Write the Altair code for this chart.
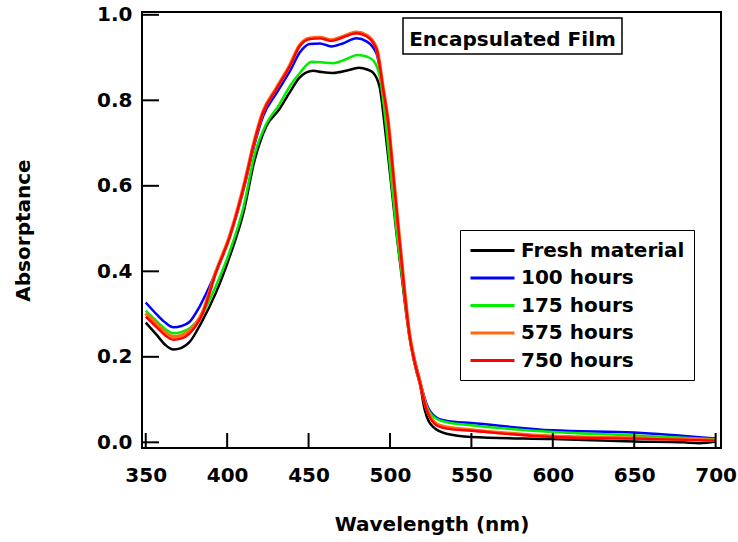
import altair as alt
import pandas as pd

SERIES = ["Fresh material", "100 hours", "175 hours", "575 hours", "750 hours"]
COLORS = ["#000000", "#0000ff", "#00ee00", "#ff6a10", "#ff0000"]
WIDTHS = [2.5, 2.5, 2.5, 3.6, 2.4]

wl_fresh = [350, 357, 362, 367, 372, 377, 384, 393, 401.6, 410, 417, 420, 424, 432, 438.5, 444.6,
            452.8, 458, 465, 473, 481, 486, 489.6, 493.7, 496.8, 500, 504, 507, 510, 513, 516,
            518.3, 521.4, 526.5, 534.7, 550, 600, 650, 680, 690, 700]
a_fresh = [0.280, 0.250, 0.228, 0.217, 0.221, 0.235, 0.279, 0.349, 0.435, 0.537, 0.662, 0.700, 0.739,
           0.779, 0.819, 0.854, 0.869, 0.866, 0.864, 0.869, 0.876, 0.872, 0.865, 0.830, 0.739, 0.630,
           0.489, 0.395, 0.300, 0.225, 0.170, 0.138, 0.075, 0.036, 0.020, 0.0125, 0.0077, 0.002,
           0.000, -0.002, 0.002]

wl_100 = [350, 357, 362, 367, 372, 377, 383, 391, 401.6, 411, 416, 422, 430, 438.5, 444.6, 450.7,
          456.9, 464, 471, 479.4, 485.6, 491.7, 495.8, 498.9, 501.9, 505, 509, 512, 515, 518,
          522.4, 528.5, 535, 550, 600, 650, 700]
a_100 = [0.327, 0.298, 0.280, 0.269, 0.272, 0.282, 0.317, 0.380, 0.481, 0.605, 0.685, 0.762, 0.815,
         0.868, 0.912, 0.932, 0.933, 0.926, 0.933, 0.945, 0.938, 0.910, 0.822, 0.745, 0.628, 0.503,
         0.350, 0.250, 0.195, 0.150, 0.090, 0.058, 0.050, 0.045, 0.028, 0.023, 0.009]

wl_175 = [350, 357, 362, 367, 372, 377, 384, 393, 401.6, 410, 417, 424, 432, 438.5, 444.6, 452,
          458, 465, 473, 480, 486, 490, 494, 497, 500, 504, 509, 512, 515, 518, 522.4, 528.5,
          535, 550, 600, 650, 700]
a_175 = [0.308, 0.282, 0.265, 0.255, 0.258, 0.267, 0.295, 0.365, 0.447, 0.550, 0.675, 0.745, 0.790,
         0.833, 0.864, 0.890, 0.889, 0.887, 0.896, 0.906, 0.902, 0.892, 0.850, 0.760, 0.645, 0.495,
         0.340, 0.245, 0.190, 0.145, 0.085, 0.055, 0.047, 0.040, 0.024, 0.016, 0.007]

wl_575 = [350, 357, 362, 367, 372, 377, 385, 393, 401.6, 411, 416, 422, 430, 438.5, 444.6, 450.7,
          456.9, 464, 471, 479.4, 485.6, 491.7, 495.8, 498.9, 501.9, 505, 509, 512, 515, 518,
          522.4, 528.5, 535, 550, 600, 650, 700]
a_575 = [0.302, 0.275, 0.257, 0.247, 0.250, 0.262, 0.305, 0.398, 0.483, 0.612, 0.694, 0.773, 0.827,
         0.882, 0.929, 0.945, 0.947, 0.941, 0.949, 0.959, 0.952, 0.922, 0.828, 0.749, 0.632, 0.507,
         0.352, 0.252, 0.192, 0.147, 0.080, 0.043, 0.035, 0.029, 0.014, 0.010, 0.005]

wl_750 = [350, 357, 362, 367, 372, 377, 385, 393, 401.6, 411, 416, 422, 430, 438.5, 444.6, 450.7,
          456.9, 464, 471, 479.4, 485.6, 491.7, 495.8, 498.9, 501.9, 505, 509, 512, 515, 518,
          522.4, 528.5, 535, 550, 600, 650, 700]
a_750 = [0.294, 0.268, 0.250, 0.240, 0.243, 0.255, 0.302, 0.396, 0.481, 0.610, 0.692, 0.771, 0.825,
         0.880, 0.927, 0.943, 0.945, 0.939, 0.947, 0.957, 0.950, 0.920, 0.826, 0.747, 0.630, 0.505,
         0.350, 0.250, 0.190, 0.145, 0.077, 0.040, 0.032, 0.027, 0.0125, 0.0087, 0.004]

X_TICKS = [350, 400, 450, 500, 550, 600, 650, 700]
Y_TICKS = [0.0, 0.2, 0.4, 0.6, 0.8, 1.0]
TITLE = "Encapsulated Film"

WL = [wl_fresh, wl_100, wl_175, wl_575, wl_750]
AB = [a_fresh, a_100, a_175, a_575, a_750]

rows = []
for s, wls, abs_ in zip(SERIES, WL, AB):
    for w, a in zip(wls, abs_):
        rows.append({"series": s, "wl": w, "a": a})
df = pd.DataFrame(rows)

W, H = 579, 436
FONT = "DejaVu Sans"
xscale = alt.Scale(domain=[347.7, 703.3], nice=False, zero=False)
yscale = alt.Scale(domain=[-0.0133, 1.0066], nice=False, zero=False)

color = alt.Color(
    "series:N",
    scale=alt.Scale(domain=SERIES, range=COLORS),
    legend=alt.Legend(
        orient="none", legendX=318, legendY=218, title=None,
        strokeColor="black", fillColor="white", padding=9,
        symbolType="M-1,0H3.4", symbolSize=400, symbolStrokeWidth=3,
        labelFont=FONT, labelFontSize=20, labelFontWeight="bold", labelColor="black",
        labelOffset=29, rowPadding=5.5, labelLimit=300,
    ),
)

xaxis = alt.Axis(
    values=X_TICKS, format="d", domain=False, ticks=False, grid=False,
    labelFont=FONT, labelFontSize=20, labelFontWeight="bold", labelColor="black",
    labelPadding=17, title="Wavelength (nm)", titleFont=FONT, titleFontSize=20,
    titleFontWeight="bold", titleColor="black", titleY=82, titleBaseline="alphabetic",
)
yaxis = alt.Axis(
    values=Y_TICKS, format=".1f", domain=False, ticks=False, grid=False,
    labelFont=FONT, labelFontSize=20, labelFontWeight="bold", labelColor="black",
    labelPadding=10, title="Absorptance", titleFont=FONT, titleFontSize=20,
    titleFontWeight="bold", titleColor="black", titleX=-112.5, titleY=218,
    titleBaseline="alphabetic", titleAngle=270,
)

X = alt.X("wl:Q", scale=xscale, axis=xaxis)
Y = alt.Y("a:Q", scale=yscale, axis=yaxis)

layers = []
for i, s in enumerate(SERIES):
    layers.append(
        alt.Chart(df).transform_filter(alt.datum.series == s)
        .mark_line(strokeWidth=WIDTHS[i], interpolate="monotone")
        .encode(x=X, y=Y, color=color)
    )

ytick_df = pd.DataFrame({"a": Y_TICKS})
xtick_df = pd.DataFrame({"wl": X_TICKS})
yticks = alt.Chart(ytick_df).mark_rule(color="black", strokeWidth=2).encode(
    y=Y, x=alt.value(0), x2=alt.value(17))
xticks = alt.Chart(xtick_df).mark_rule(color="black", strokeWidth=2).encode(
    x=X, y=alt.value(H), y2=alt.value(H - 15))

title_df = pd.DataFrame({"t": [TITLE]})
tbox = alt.Chart(title_df).mark_rect(fill="white", stroke="black", strokeWidth=1.5).encode(
    x=alt.value(261), x2=alt.value(480), y=alt.value(6), y2=alt.value(42))
ttext = alt.Chart(title_df).mark_text(
    font=FONT, fontSize=20, fontWeight="bold", color="black", align="center",
    baseline="alphabetic").encode(text="t:N", x=alt.value(370.5), y=alt.value(33.7))

chart = alt.layer(*layers, yticks, xticks, tbox, ttext).properties(
    width=W, height=H, autosize="none", background="white",
    padding={"left": 142, "top": 12, "right": 17, "bottom": 94},
).configure_view(stroke="black", strokeWidth=2)

chart.save("out.html", embed_options={"renderer": "svg", "actions": False})
